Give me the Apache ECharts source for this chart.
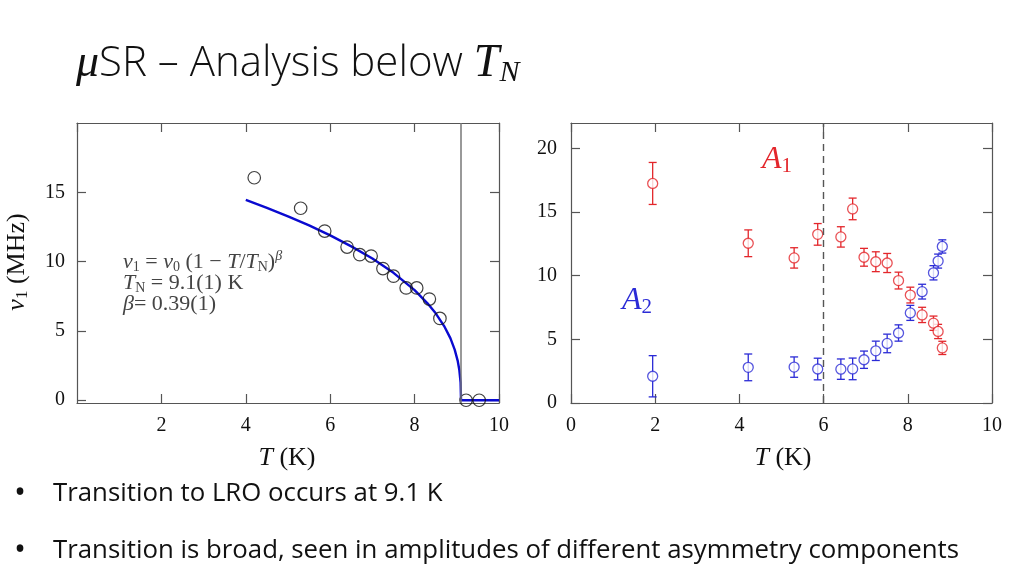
<!DOCTYPE html>
<html>
<head>
<meta charset="utf-8">
<script src="https://cdn.jsdelivr.net/npm/echarts@6/dist/echarts.min.js"></script>
<style>
  html, body { margin: 0; padding: 0; background: #fff; }
  #chart { width: 1024px; height: 576px; }
</style>
</head>
<body>
<div id="chart"></div>
<script>
// Left panel: muon precession frequency nu_1 vs T
const nuT = [4.2, 5.3, 5.87, 6.4, 6.7, 6.97, 7.25, 7.5, 7.8, 8.05, 8.35, 8.6, 9.22, 9.53];
const nuVal = [16.05, 13.85, 12.2, 11.05, 10.5, 10.4, 9.5, 8.95, 8.1, 8.1, 7.3, 5.9, 0, 0];

// fit curve
const fitT = [4, 4.5, 5, 5.5, 6, 6.5, 7, 7.5, 8, 8.3, 8.5, 8.7, 8.85, 8.95, 9.02, 9.06, 9.09, 9.1, 10];
const fitNu = [14.45, 13.87, 13.26, 12.61, 11.89, 11.1, 10.22, 9.19, 7.94, 7.01, 6.27, 5.35, 4.46, 3.65, 2.86, 2.18, 1.27, 0, 0];
const tN = 9.1;

// Right panel: asymmetries A1 (red) and A2 (blue)
const ampT = [1.94, 4.21, 5.3, 5.86, 6.41, 6.69, 6.96, 7.24, 7.51, 7.78, 8.06, 8.34, 8.61, 8.72, 8.82];
const a1Val = [17.25, 12.55, 11.4, 13.25, 13.05, 15.25, 11.45, 11.1, 11.0, 9.62, 8.48, 6.92, 6.27, 5.62, 4.33];
const a1Err = [1.65, 1.05, 0.8, 0.85, 0.8, 0.85, 0.7, 0.78, 0.75, 0.66, 0.62, 0.6, 0.56, 0.56, 0.52];
const a2Val = [2.1, 2.8, 2.82, 2.67, 2.66, 2.68, 3.4, 4.1, 4.68, 5.5, 7.08, 8.75, 10.23, 11.15, 12.3];
const a2Err = [1.62, 1.05, 0.8, 0.85, 0.8, 0.85, 0.68, 0.76, 0.73, 0.64, 0.59, 0.58, 0.56, 0.55, 0.52];
const dashT = 6;

const leftYTicks = [0, 5, 10, 15];
const rightYTicks = [0, 5, 10, 15, 20];

const SERIF = '"Liberation Serif", "DejaVu Serif", serif';
const SANS = '"Open Sans", "Noto Sans", sans-serif';
const AXIS_COLOR = '#555';
const RED = '#e3262b';
const BLUE = '#2b2bd6';

const chart = echarts.init(document.getElementById('chart'), null, { renderer: 'canvas' });

function frameAxis(extra) {
  return Object.assign({
    type: 'value',
    axisLine: { show: true, onZero: false, lineStyle: { color: AXIS_COLOR, width: 1.2 } },
    axisTick: { show: true, inside: true, length: 9, lineStyle: { color: AXIS_COLOR, width: 1.2 } },
    axisLabel: { show: false },
    splitLine: { show: false }
  }, extra);
}

const tickLabel = { show: true, color: '#111', fontFamily: SERIF, fontSize: 20 };

function errorBars(vals, errs, color, xi, yi) {
  return {
    type: 'custom',
    xAxisIndex: xi,
    yAxisIndex: yi,
    silent: true,
    z: 2,
    data: ampT.map((t, i) => [t, vals[i], errs[i]]),
    renderItem: function (params, api) {
      const x = api.value(0), y = api.value(1), e = api.value(2);
      const top = api.coord([x, y + e]);
      const bot = api.coord([x, y - e]);
      const hw = 4;
      const st = { stroke: color, lineWidth: 1.3 };
      return {
        type: 'group',
        children: [
          { type: 'line', shape: { x1: top[0], y1: top[1], x2: bot[0], y2: bot[1] }, style: st },
          { type: 'line', shape: { x1: top[0] - hw, y1: top[1], x2: top[0] + hw, y2: top[1] }, style: st },
          { type: 'line', shape: { x1: bot[0] - hw, y1: bot[1], x2: bot[0] + hw, y2: bot[1] }, style: st }
        ]
      };
    }
  };
}

function points(vals, color, xi, yi) {
  return {
    type: 'scatter',
    xAxisIndex: xi,
    yAxisIndex: yi,
    z: 3,
    symbol: 'circle',
    symbolSize: 10,
    itemStyle: { color: '#fff', borderColor: color, borderWidth: 1.3 },
    data: ampT.map((t, i) => [t, vals[i]])
  };
}

const serifRich = (size, color) => ({
  i: { fontFamily: SERIF, fontStyle: 'italic', fontSize: size, fill: color },
  t: { fontFamily: SERIF, fontSize: size, fill: color }
});

const option = {
  backgroundColor: '#fff',
  animation: false,
  grid: [
    { left: 77, top: 123, width: 422, height: 280 },
    { left: 571, top: 123, width: 421, height: 280 }
  ],
  xAxis: [
    frameAxis({ gridIndex: 0, position: 'bottom', min: 0, max: 10, interval: 2,
      axisLabel: Object.assign({}, tickLabel, { margin: 13, showMinLabel: false, formatter: v => (v === 0 ? '' : v) }) }),
    frameAxis({ gridIndex: 0, position: 'top', min: 0, max: 10, interval: 2 }),
    frameAxis({ gridIndex: 1, position: 'bottom', min: 0, max: 10, interval: 2,
      axisLabel: Object.assign({}, tickLabel, { margin: 13 }) }),
    frameAxis({ gridIndex: 1, position: 'top', min: 0, max: 10, interval: 2 })
  ],
  yAxis: [
    frameAxis({ gridIndex: 0, position: 'left', min: -0.2, max: 20,
      axisTick: { show: true, inside: true, length: 9, customValues: leftYTicks, lineStyle: { color: AXIS_COLOR, width: 1.2 } },
      axisLabel: Object.assign({}, tickLabel, { margin: 12, customValues: leftYTicks }) }),
    frameAxis({ gridIndex: 0, position: 'right', min: -0.2, max: 20,
      axisTick: { show: true, inside: true, length: 9, customValues: leftYTicks, lineStyle: { color: AXIS_COLOR, width: 1.2 } } }),
    frameAxis({ gridIndex: 1, position: 'left', min: 0, max: 22,
      axisTick: { show: true, inside: true, length: 9, customValues: rightYTicks, lineStyle: { color: AXIS_COLOR, width: 1.2 } },
      axisLabel: Object.assign({}, tickLabel, { margin: 14, customValues: rightYTicks }) }),
    frameAxis({ gridIndex: 1, position: 'right', min: 0, max: 22,
      axisTick: { show: true, inside: true, length: 9, customValues: rightYTicks, lineStyle: { color: AXIS_COLOR, width: 1.2 } } })
  ],
  series: [
    {
      type: 'line',
      xAxisIndex: 0,
      yAxisIndex: 0,
      z: 2,
      showSymbol: false,
      symbol: 'none',
      lineStyle: { color: '#0a0ad0', width: 2.4 },
      data: fitT.map((t, i) => [t, fitNu[i]]),
      markLine: {
        silent: true,
        symbol: 'none',
        label: { show: false },
        lineStyle: { color: '#777', type: 'solid', width: 1.5 },
        data: [{ xAxis: tN }]
      }
    },
    {
      type: 'scatter',
      xAxisIndex: 0,
      yAxisIndex: 0,
      z: 3,
      symbol: 'circle',
      symbolSize: 12.5,
      itemStyle: { color: 'rgba(255,255,255,0)', borderColor: '#111', borderWidth: 1.2 },
      data: nuT.map((t, i) => [t, nuVal[i]])
    },
    Object.assign(errorBars(a1Val, a1Err, RED, 2, 2), {
      markLine: {
        silent: true,
        symbol: 'none',
        label: { show: false },
        lineStyle: { color: '#555', type: [7, 5], width: 1.4 },
        data: [{ xAxis: dashT }]
      }
    }),
    errorBars(a2Val, a2Err, BLUE, 2, 2),
    points(a1Val, RED, 2, 2),
    points(a2Val, BLUE, 2, 2)
  ],
  graphic: [
    // slide title
    {
      type: 'text', left: 76, top: 41,
      style: {
        text: '{mu|μ}{t|SR – Analysis below }{T|T}{N|N}',
        rich: {
          mu: { fontFamily: SERIF, fontStyle: 'italic', fontSize: 46, fill: '#111' },
          t: { fontFamily: SANS, fontWeight: 300, fontSize: 42, fill: '#111' },
          T: { fontFamily: SERIF, fontStyle: 'italic', fontSize: 46, fill: '#111' },
          N: { fontFamily: SERIF, fontStyle: 'italic', fontSize: 30, fill: '#111', padding: [18, 0, 0, 0] }
        }
      }
    },
    // left y axis name
    {
      type: 'text', x: 17, y: 262, rotation: Math.PI / 2,
      style: {
        text: '{i|ν}{s|1}{t| (MHz)}',
        align: 'center', verticalAlign: 'middle',
        rich: Object.assign(serifRich(26, '#111'), {
          s: { fontFamily: SERIF, fontSize: 17, fill: '#111', padding: [11, 0, 0, 0] }
        })
      }
    },
    // x axis names
    {
      type: 'text', x: 287, y: 458,
      style: { text: '{i|T}{t| (K)}', align: 'center', verticalAlign: 'middle', rich: serifRich(26, '#111') }
    },
    {
      type: 'text', x: 783, y: 458,
      style: { text: '{i|T}{t| (K)}', align: 'center', verticalAlign: 'middle', rich: serifRich(26, '#111') }
    },
    // fit annotation
    {
      type: 'text', left: 123, top: 249,
      style: {
        text: '{i|ν}{s|1}{t| = }{i|ν}{s|0}{t| (1 − }{i|T}{t|/}{i|T}{s|N}{t|)}{p|β}\n{i|T}{s|N}{t| = 9.1(1) K}\n{i|β}{t|= 0.39(1)}',
        lineHeight: 21,
        rich: {
          i: { fontFamily: SERIF, fontStyle: 'italic', fontSize: 22, fill: '#444', lineHeight: 21 },
          t: { fontFamily: SERIF, fontSize: 22, fill: '#444', lineHeight: 21 },
          s: { fontFamily: SERIF, fontSize: 14, fill: '#444', lineHeight: 21, padding: [10, 0, 0, 0] },
          p: { fontFamily: SERIF, fontStyle: 'italic', fontSize: 14, fill: '#444', lineHeight: 21, padding: [0, 0, 12, 0] }
        }
      }
    },
    // A1 / A2 labels
    {
      type: 'text', x: 777, y: 160,
      style: {
        text: '{i|A}{s|1}', align: 'center', verticalAlign: 'middle',
        rich: {
          i: { fontFamily: SERIF, fontStyle: 'italic', fontSize: 32, fill: RED },
          s: { fontFamily: SERIF, fontSize: 21, fill: RED, padding: [12, 0, 0, 0] }
        }
      }
    },
    {
      type: 'text', x: 637, y: 301,
      style: {
        text: '{i|A}{s|2}', align: 'center', verticalAlign: 'middle',
        rich: {
          i: { fontFamily: SERIF, fontStyle: 'italic', fontSize: 32, fill: BLUE },
          s: { fontFamily: SERIF, fontSize: 21, fill: BLUE, padding: [12, 0, 0, 0] }
        }
      }
    },
    // bullets
    {
      type: 'text', x: 20, y: 494,
      style: { text: '•', fontFamily: SANS, fontSize: 32, fill: '#111', align: 'center', verticalAlign: 'middle' }
    },
    {
      type: 'text', x: 53, y: 494,
      style: { text: 'Transition to LRO occurs at 9.1 K', fontFamily: SANS, fontSize: 25.8, fill: '#111', verticalAlign: 'middle' }
    },
    {
      type: 'text', x: 20, y: 551,
      style: { text: '•', fontFamily: SANS, fontSize: 32, fill: '#111', align: 'center', verticalAlign: 'middle' }
    },
    {
      type: 'text', x: 53, y: 551,
      style: { text: 'Transition is broad, seen in amplitudes of different asymmetry components', fontFamily: SANS, fontSize: 25.8, fill: '#111', verticalAlign: 'middle' }
    }
  ]
};

chart.setOption(option);
</script>
</body>
</html>
